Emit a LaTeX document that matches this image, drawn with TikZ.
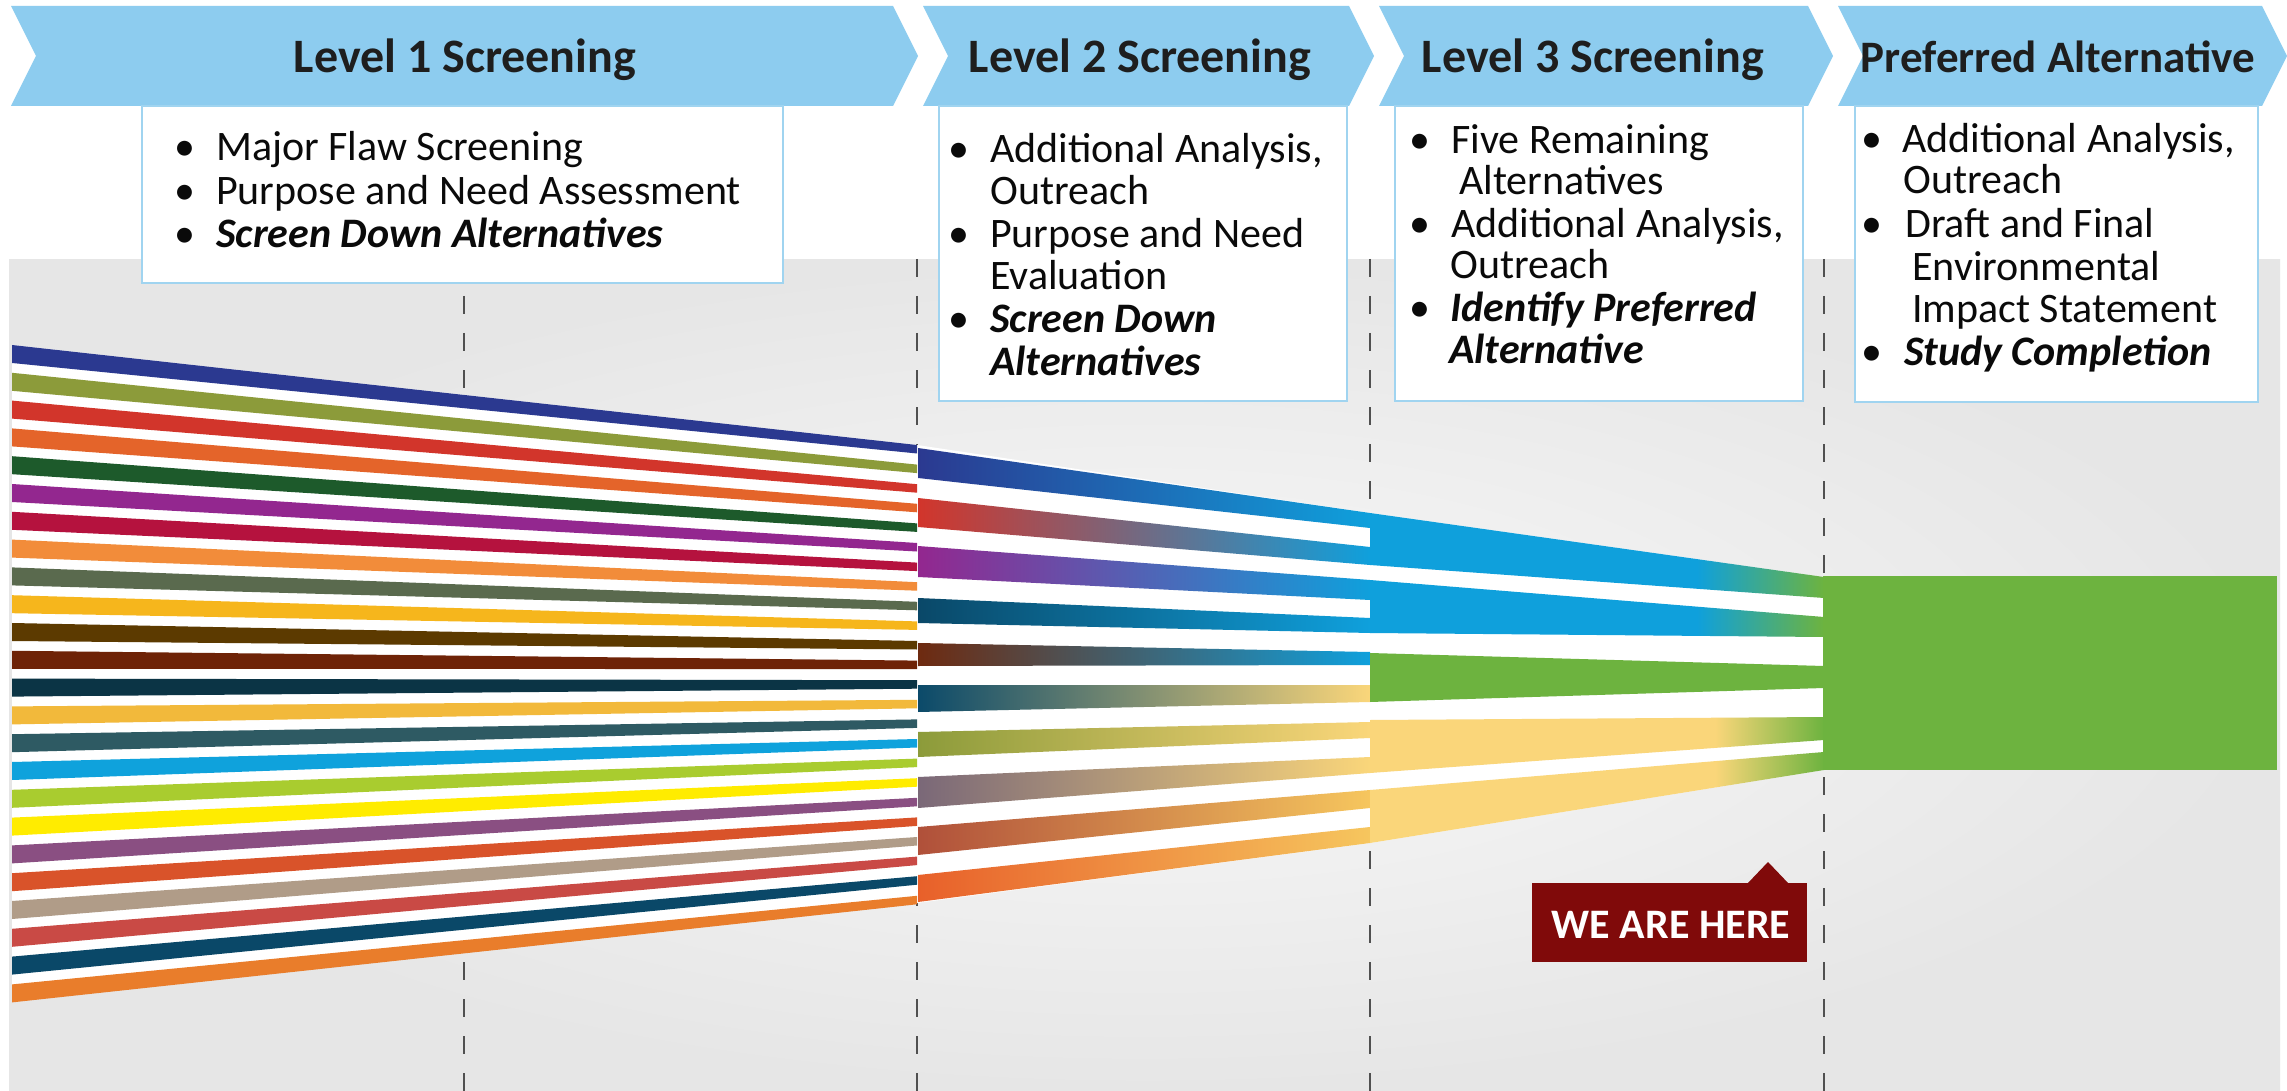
\documentclass[tikz,border=0pt]{standalone}
\usepackage{fontspec}
\setmainfont{Carlito}
\definecolor{chevblue}{RGB}{141,204,239}
\definecolor{boxline}{RGB}{160,212,240}
\definecolor{hdrtext}{RGB}{30,30,30}
\definecolor{bodytext}{RGB}{10,10,10}
\definecolor{dashgray}{RGB}{80,80,80}
\definecolor{bglight}{RGB}{249,249,249}
\definecolor{bgdark}{RGB}{230,230,230}
\definecolor{skyb}{HTML}{0FA0DC}
\definecolor{lgrn}{HTML}{6DB33F}
\definecolor{lyel}{HTML}{FAD67A}
\definecolor{lyeo}{HTML}{F6C65E}
\definecolor{herered}{RGB}{128,10,10}
\definecolor{s1}{HTML}{2B3990}
\definecolor{s2}{HTML}{8C9B3A}
\definecolor{s3}{HTML}{D2352B}
\definecolor{s4}{HTML}{E4642A}
\definecolor{s5}{HTML}{1D5A2B}
\definecolor{s6}{HTML}{93278F}
\definecolor{s7}{HTML}{B5123E}
\definecolor{s8}{HTML}{F28C3A}
\definecolor{s9}{HTML}{5A6A4E}
\definecolor{s10}{HTML}{F6B61C}
\definecolor{s11}{HTML}{5C3A00}
\definecolor{s12}{HTML}{6E2307}
\definecolor{s13}{HTML}{0B3445}
\definecolor{s14}{HTML}{F2B93B}
\definecolor{s15}{HTML}{2E5A63}
\definecolor{s16}{HTML}{0FA2DC}
\definecolor{s17}{HTML}{A9CC2F}
\definecolor{s18}{HTML}{FFEC00}
\definecolor{s19}{HTML}{8A4F82}
\definecolor{s20}{HTML}{D9532A}
\definecolor{s21}{HTML}{B09C88}
\definecolor{s22}{HTML}{C94A45}
\definecolor{s23}{HTML}{0A4868}
\definecolor{s24}{HTML}{E97D2B}
\definecolor{t1}{HTML}{2B3990}
\definecolor{t2}{HTML}{D2352B}
\definecolor{t3}{HTML}{93278F}
\definecolor{t4}{HTML}{0A4868}
\definecolor{t5}{HTML}{6E2A10}
\definecolor{t6}{HTML}{0B4A6A}
\definecolor{t7}{HTML}{8C9B3A}
\definecolor{t8}{HTML}{7A6878}
\definecolor{t9}{HTML}{B0503A}
\definecolor{t10}{HTML}{E8602A}
\pgfdeclarehorizontalshading{bluetogreen}{100bp}{color(0bp)=(skyb); color(61bp)=(skyb); color(75bp)=(lgrn); color(100bp)=(lgrn)}
\pgfdeclarehorizontalshading{yeltogreen}{100bp}{color(0bp)=(lyel); color(63bp)=(lyel); color(75bp)=(lgrn); color(100bp)=(lgrn)}
\begin{document}
\begin{tikzpicture}[x=1pt,y=-1pt,
  hdr/.style={font=\fontsize{48}{50}\selectfont\bfseries, text=hdrtext, anchor=base, inner sep=0pt},
  body/.style={font=\fontsize{42}{43}\selectfont, text=bodytext, anchor=base west, inner sep=0pt},
  bodybi/.style={font=\fontsize{42}{43}\selectfont\bfseries\itshape, text=bodytext, anchor=base west, inner sep=0pt},
  bul/.style={font=\fontsize{42}{43}\selectfont, text=bodytext, anchor=base, inner sep=0pt},
  chev/.style={fill=chevblue},
  infobox/.style={draw=boxline, line width=2.5pt, fill=white},
  dashline/.style={draw=dashgray, line width=2.5pt, dash pattern=on 18pt off 19pt},
  hereshape/.style={fill=herered},
]
\useasboundingbox (0,0) rectangle (2287,1091);
\fill[white] (0,0) rectangle (2287,1091);
% gray backdrop
\shade[inner color=bglight, outer color=bgdark] (9,260) rectangle (2280,1091);
% dashed separators
\foreach \x in {464,917,1370,1824} {
  \draw[dashline] (\x,259) -- (\x,1091);
}
% white funnel under stripes
\fill[white] (12,345) -- (917,445) -- (1370,513) -- (1823,577) -- (1823,770) -- (1370,843) -- (917,903) -- (12,1002) -- cycle;
% level 1 stripes
\foreach \c [count=\i from 0] in {s1,s2,s3,s4,s5,s6,s7,s8,s9,s10,s11,s12,s13,s14,s15,s16,s17,s18,s19,s20,s21,s22,s23,s24} {
  \fill[\c] (12,{345+\i*27.8}) -- (917,{445+\i*19.6}) -- (917,{453.5+\i*19.6}) -- (12,{363+\i*27.8}) -- cycle;
}
% level 2 stripes
\shade[left color=t1, right color=skyb] (918,448) -- (1370,513) -- (1370,528) -- (918,478) -- cycle;
\shade[left color=t2, right color=skyb] (918,498) -- (1370,547) -- (1370,565) -- (918,527) -- cycle;
\shade[left color=t3, right color=skyb] (918,546) -- (1370,580) -- (1370,600) -- (918,577) -- cycle;
\shade[left color=t4, right color=skyb] (918,598) -- (1370,618) -- (1370,633) -- (918,623) -- cycle;
\shade[left color=t5, right color=skyb] (918,643) -- (1370,652) -- (1370,665) -- (918,666) -- cycle;
\shade[left color=t6, right color=lyel] (918,685) -- (1370,685) -- (1370,702) -- (918,712) -- cycle;
\shade[left color=t7, right color=lyel] (918,732) -- (1370,722) -- (1370,738) -- (918,757) -- cycle;
\shade[left color=t8, right color=lyel] (918,777) -- (1370,757) -- (1370,773) -- (918,808) -- cycle;
\shade[left color=t9, right color=lyeo] (918,827) -- (1370,790) -- (1370,808) -- (918,855) -- cycle;
\shade[left color=t10, right color=lyeo] (918,875) -- (1370,827) -- (1370,843) -- (918,902) -- cycle;
% level 3 stripes
\shade[shading=bluetogreen] (1370,513) -- (1824,577) -- (1824,598) -- (1370,565) -- cycle;
\shade[shading=bluetogreen] (1370,580) -- (1824,617) -- (1824,637) -- (1370,633) -- cycle;
\fill[lgrn] (1370,653) -- (1824,666) -- (1824,688) -- (1370,702) -- cycle;
\shade[shading=yeltogreen] (1370,720) -- (1824,717) -- (1824,740) -- (1370,773) -- cycle;
\shade[shading=yeltogreen] (1370,790) -- (1824,752) -- (1824,770) -- (1370,843) -- cycle;
% preferred alternative block
\fill[lgrn] (1823,576) rectangle (2277,770);
% header chevrons
\fill[chev] (11,6) -- (893,6) -- (918,56) -- (893,106) -- (11,106) -- (36,56) -- cycle;
\fill[chev] (923,6) -- (1349,6) -- (1374,56) -- (1349,106) -- (923,106) -- (948,56) -- cycle;
\fill[chev] (1379,6) -- (1808,6) -- (1833,56) -- (1808,106) -- (1379,106) -- (1404,56) -- cycle;
\fill[chev] (1838,6) -- (2262,6) -- (2287,56) -- (2262,106) -- (1838,106) -- (1863,56) -- cycle;
\node[hdr] (h1) at (465,73) {Level 1 Screening};
\node[hdr] (h2) at (1140,73) {Level 2 Screening};
\node[hdr] (h3) at (1593,73) {Level 3 Screening};
\node[hdr, font=\fontsize{45}{47}\selectfont\bfseries] (h4) at (2058,73) {Preferred Alternative};
% info boxes
\draw[infobox] (142,106) rectangle (783,283);
\draw[infobox] (939,106) rectangle (1347,401);
\draw[infobox] (1395,106) rectangle (1803,401);
\draw[infobox] (1855,106) rectangle (2258,402);
% box 1
\node[bul] (p1a) at (185,161) {•};
\node[body] (l1a) at (216,161) {Major Flaw Screening};
\node[bul] (p1b) at (185,205) {•};
\node[body] (l1b) at (216,205) {Purpose and Need Assessment};
\node[bul] (p1c) at (185,248) {•};
\node[bodybi] (l1c) at (216,248) {Screen Down Alternatives};
% box 2
\node[bul] (p2a) at (959,163) {•};
\node[body] (l2a) at (990,163) {Additional Analysis,};
\node[body] (l2b) at (990,205) {Outreach};
\node[bul] (p2c) at (959,248) {•};
\node[body] (l2c) at (990,248) {Purpose and Need};
\node[body] (l2d) at (990,290) {Evaluation};
\node[bul] (p2e) at (959,333) {•};
\node[bodybi] (l2e) at (990,333) {Screen Down};
\node[bodybi] (l2f) at (990,375) {Alternatives};
% box 3
\node[bul] (p3a) at (1420,154) {•};
\node[body] (l3a) at (1451,154) {Five Remaining};
\node[body] (l3b) at (1459,195) {Alternatives};
\node[bul] (p3c) at (1420,238) {•};
\node[body] (l3c) at (1451,238) {Additional Analysis,};
\node[body] (l3d) at (1450,279) {Outreach};
\node[bul] (p3e) at (1420,322) {•};
\node[bodybi] (l3e) at (1450,322) {Identify Preferred};
\node[bodybi] (l3f) at (1449,363) {Alternative};
% box 4
\node[bul] (p4a) at (1872,153) {•};
\node[body] (l4a) at (1902,153) {Additional Analysis,};
\node[body] (l4b) at (1903,194) {Outreach};
\node[bul] (p4c) at (1872,238) {•};
\node[body] (l4c) at (1905,238) {Draft and Final};
\node[body] (l4d) at (1912,281) {Environmental};
\node[body] (l4e) at (1912,323) {Impact Statement};
\node[bul] (p4f) at (1872,366) {•};
\node[bodybi] (l4f) at (1904,366) {Study Completion};
% we are here
\fill[hereshape] (1532,883) rectangle (1807,962);
\fill[hereshape] (1747,884) -- (1768,862) -- (1789,884) -- cycle;
\node[font=\fontsize{42}{44}\selectfont\bfseries, text=white, anchor=base, inner sep=0pt] (here) at (1671,938) {WE ARE HERE};
\end{tikzpicture}
\end{document}
